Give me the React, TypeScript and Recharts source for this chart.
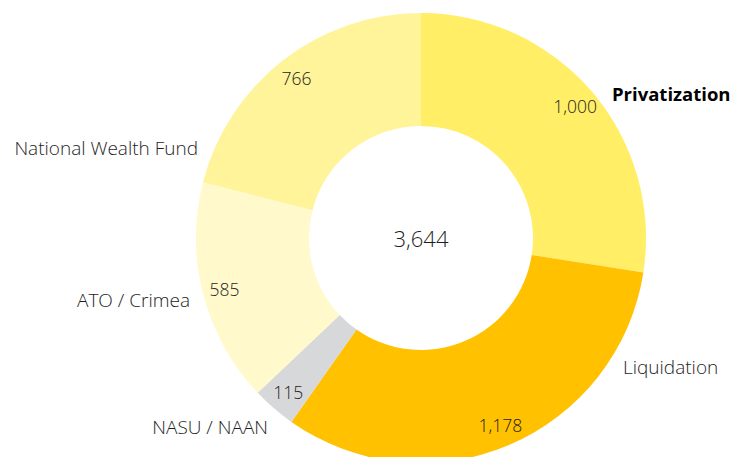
import { PieChart, Pie, Cell } from 'recharts';

const categories = ['Privatization', 'Liquidation', 'NASU / NAAN', 'ATO / Crimea', 'National Wealth Fund'];
const values = [1000, 1178, 115, 585, 766];
const colors = ['#FFEE66', '#FFC100', '#D7D8DA', '#FFF9CC', '#FFF49A'];

// where each category name sits, relative to the pie centre
const nameSpots = [
  { dx: 191, dy: -145, anchor: 'start', bold: true },
  { dx: 202, dy: 129, anchor: 'start', bold: false },
  { dx: -153, dy: 189, anchor: 'end', bold: false },
  { dx: -231, dy: 62, anchor: 'end', bold: false },
  { dx: -223, dy: -90, anchor: 'end', bold: false },
];

const FONT = '"Open Sans", "Noto Sans", sans-serif';
const TEXT = '#1e1e1e';
const RAD = Math.PI / 180;
const fmt = (v: number) => v.toLocaleString('en-US');

const data = categories.map((name, i) => ({ name, value: values[i] }));
const total = values.reduce((a, b) => a + b, 0);

function renderLabel(props: any) {
  const { cx, cy, midAngle, index, value } = props;
  const r = 203;
  const x = cx + r * Math.cos(-midAngle * RAD);
  const y = cy + r * Math.sin(-midAngle * RAD);
  const spot = nameSpots[index];
  return (
    <g>
      <text x={x} y={y} textAnchor="middle" dominantBaseline="central" fill={TEXT} fontSize={17.5} fontWeight={300} fontFamily={FONT}>
        {fmt(value)}
      </text>
      <text
        x={cx + spot.dx}
        y={cy + spot.dy}
        textAnchor={spot.anchor}
        dominantBaseline="central"
        fill={spot.bold ? '#000' : TEXT}
        fontSize={spot.bold ? 18.5 : 19}
        fontWeight={spot.bold ? 700 : 300}
        fontFamily={FONT}
      >
        {categories[index]}
      </text>
      {index === 0 && (
        <text x={cx} y={cy} textAnchor="middle" dominantBaseline="central" fill={TEXT} fontSize={22} fontWeight={300} fontFamily={FONT}>
          {fmt(total)}
        </text>
      )}
    </g>
  );
}

export default function App() {
  return (
    <div style={{ position: 'absolute', left: 0, top: 0, width: 734, height: 457, background: '#fff' }}>
      <PieChart width={734} height={457} margin={{ top: 0, right: 0, bottom: 0, left: 0 }}>
        <Pie
          data={data}
          dataKey="value"
          nameKey="name"
          cx={421}
          cy={238}
          innerRadius={112}
          outerRadius={225}
          startAngle={90}
          endAngle={-270}
          stroke="none"
          label={renderLabel}
          labelLine={false}
          isAnimationActive={false}
        >
          {data.map((_, i) => (
            <Cell key={i} fill={colors[i]} />
          ))}
        </Pie>
      </PieChart>
    </div>
  );
}
